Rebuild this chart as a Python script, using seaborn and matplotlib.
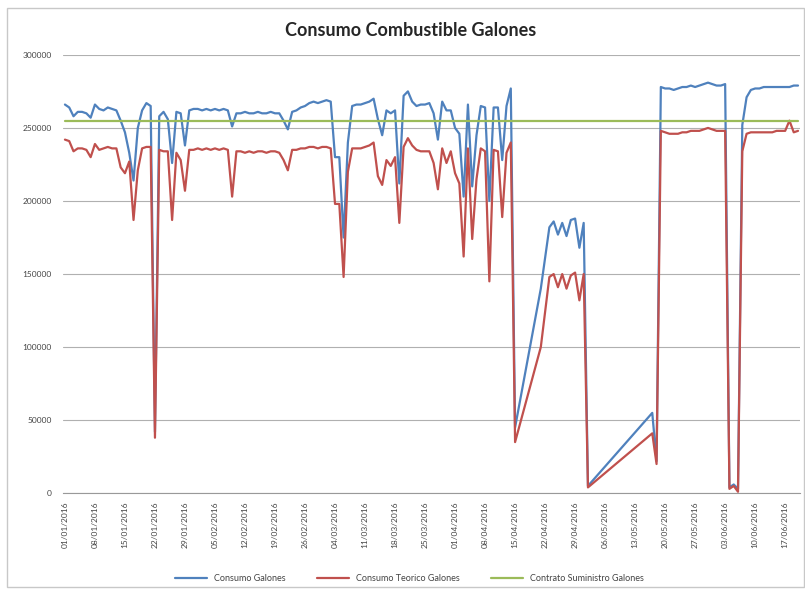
import matplotlib
matplotlib.use("Agg")
import matplotlib.pyplot as plt
import matplotlib.dates as mdates
from matplotlib.patches import Rectangle
import seaborn as sns
import pandas as pd
import numpy as np

# days with readings (Excel date axis joins the gaps with straight lines)
SEGMENTS = [("2016-01-01", "2016-04-15"), ("2016-04-21", "2016-04-21"),
            ("2016-04-23", "2016-05-02"), ("2016-05-17", "2016-06-20")]

consumo = [266, 264, 258, 261, 261, 260, 257, 266, 263, 262, 264, 263, 262, 255, 247,
           233, 214, 250, 262, 267, 265, 42, 258, 261, 256, 226, 261, 260, 238, 262,
           263, 263, 262, 263, 262, 263, 262, 263, 262, 251, 260, 260, 261, 260, 260,
           261, 260, 260, 261, 260, 260, 255, 249, 261, 262, 264, 265, 267, 268, 267,
           268, 269, 268, 230, 230, 175, 240, 265, 266, 266, 267, 268, 270, 256, 245,
           262, 260, 262, 212, 272, 275, 268, 265, 266, 266, 267, 260, 242, 268, 262,
           262, 250, 246, 203, 266, 210, 245, 265, 264, 200, 264, 264, 228, 265, 277,
           45,
           140,
           182, 186, 177, 185, 176, 187, 188, 168, 185, 5,
           55, 22,
           278, 277, 277, 276, 277, 278, 278, 279, 278, 279, 280, 281, 280, 279, 279, 280,
           4, 6, 3, 252, 271, 276, 277, 277, 278, 278, 278, 278, 278, 278, 278, 279, 279]

teorico = [242, 241, 234, 236, 236, 235, 230, 239, 235, 236, 237, 236, 236, 223, 219,
           227, 187, 221, 236, 237, 237, 38, 235, 234, 234, 187, 233, 228, 207, 235,
           235, 236, 235, 236, 235, 236, 235, 236, 235, 203, 234, 234, 233, 234, 233,
           234, 234, 233, 234, 234, 233, 228, 221, 235, 235, 236, 236, 237, 237, 236,
           237, 237, 236, 198, 198, 148, 220, 236, 236, 236, 237, 238, 240, 217, 211,
           228, 224, 230, 185, 237, 243, 238, 235, 234, 234, 234, 226, 208, 236, 226,
           234, 219, 212, 162, 236, 174, 215, 236, 234, 145, 235, 234, 189, 233, 240,
           35,
           100,
           148, 150, 141, 150, 140, 149, 151, 132, 150, 4,
           41, 20,
           248, 247, 246, 246, 246, 247, 247, 248, 248, 248, 249, 250, 249, 248, 248, 248,
           3, 5, 1, 234, 246, 247, 247, 247, 247, 247, 247, 248, 248, 248, 255, 247, 248]

CONTRATO = 255000

dates = pd.DatetimeIndex(np.concatenate([pd.date_range(a, b) for a, b in SEGMENTS]))
df = pd.DataFrame({"fecha": dates,
                   "Consumo Galones": np.array(consumo) * 1000,
                   "Consumo Teorico Galones": np.array(teorico) * 1000,
                   "Contrato Suministro Galones": CONTRATO})
long_df = df.melt(id_vars="fecha", var_name="serie", value_name="galones")

sns.set_style("white")
plt.rcParams['font.family'] = ['Lato', 'DejaVu Sans']

fig = plt.figure(figsize=(8.05, 5.9), dpi=100)
ax = fig.add_axes([0.078, 0.164, 0.916, 0.743])

palette = {"Consumo Galones": "#4F81BD",
           "Consumo Teorico Galones": "#C0504D",
           "Contrato Suministro Galones": "#9BBB59"}
sns.lineplot(data=long_df, x="fecha", y="galones", hue="serie", palette=palette,
             linewidth=1.6, ax=ax, legend=True)

ax.set_ylim(0, 300000)
ax.set_yticks(np.arange(0, 300001, 50000))
ax.set_yticklabels([str(v) for v in range(0, 300001, 50000)], fontsize=6, color="#444444")
ax.set_xlim(pd.Timestamp("2016-01-01") - pd.Timedelta(hours=12),
            pd.Timestamp("2016-06-20") + pd.Timedelta(hours=12))
xt = pd.date_range("2016-01-01", "2016-06-17", freq="7D")
ax.set_xticks(xt)
ax.xaxis.set_major_formatter(mdates.DateFormatter("%d/%m/%Y"))
plt.setp(ax.get_xticklabels(), rotation=90, fontsize=6, color="#444444")
ax.tick_params(axis="x", length=3, color="#999999", pad=3)
ax.tick_params(axis="y", length=0, pad=8)
ax.yaxis.grid(True, color="#b0b0b0", linewidth=0.8)
ax.set_axisbelow(True)
for s in ["top", "right", "left"]:
    ax.spines[s].set_visible(False)
ax.spines["bottom"].set_color("#999999")
ax.set_xlabel("")
ax.set_ylabel("")

ax.legend(loc="upper center", bbox_to_anchor=(0.47, -0.165), ncol=3, frameon=False,
          fontsize=6.5, handlelength=3.5, columnspacing=3.5, labelcolor="#444444")

fig.text(0.51, 0.948, "Consumo Combustible Galones", ha="center", va="center",
         fontsize=13, fontweight="bold")
fig.patches.append(Rectangle((0.009, 0.005), 0.99, 0.982, transform=fig.transFigure,
                             fill=False, edgecolor="#c8c8c8", linewidth=1))

fig.savefig("out.png", dpi=100)
